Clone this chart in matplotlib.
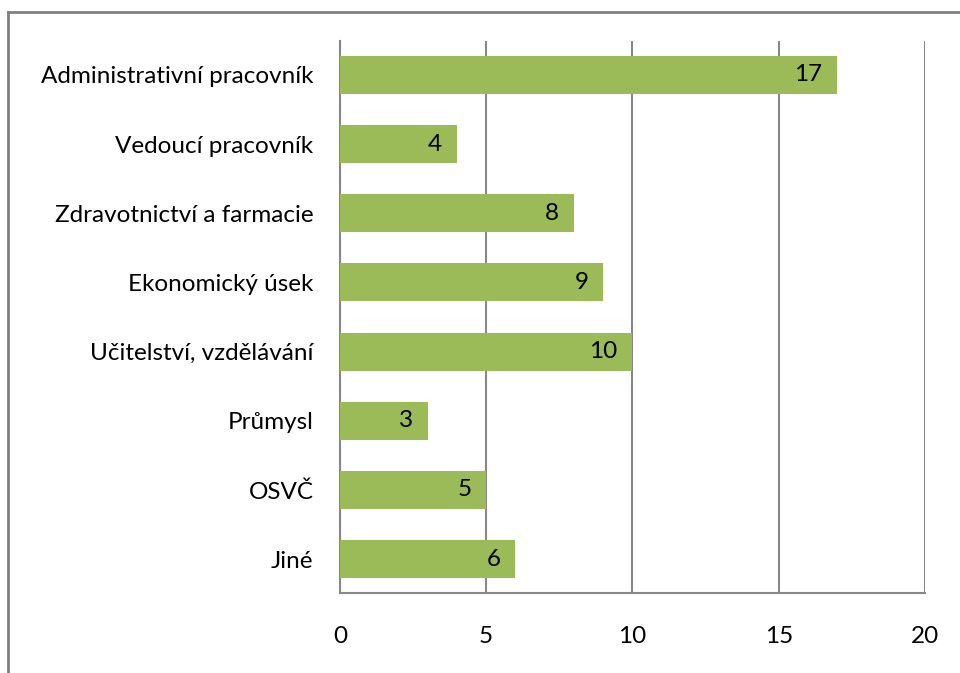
import matplotlib.pyplot as plt
from matplotlib.lines import Line2D

categories = ["Administrativní pracovník", "Vedoucí pracovník", "Zdravotnictví a farmacie",
              "Ekonomický úsek", "Učitelství, vzdělávání", "Průmysl", "OSVČ", "Jiné"]
values = [17, 4, 8, 9, 10, 3, 5, 6]
xticks = [0, 5, 10, 15, 20]

plt.rcParams['font.family'] = ['Lato', 'DejaVu Sans']
fs = 17.5

fig = plt.figure(figsize=(9.6, 6.73), dpi=100)
ax = fig.add_axes([0.354, 0.119, 0.6095, 0.82])

pos = list(range(len(categories)))[::-1]
bars = ax.barh(pos, values, height=0.55, color="#9BBB59", zorder=3)

for b, v in zip(bars, values):
    ax.text(b.get_width() - 0.5, b.get_y() + b.get_height() / 2, str(v),
            ha="right", va="center", fontsize=fs, color="black", zorder=4)

ax.set_xlim(0, 20)
ax.set_ylim(-0.49, 7.49)
ax.set_xticks(xticks)
ax.set_yticks(pos)
ax.set_yticklabels(categories)
ax.tick_params(axis="y", length=0, pad=19, labelsize=fs)
ax.tick_params(axis="x", length=0, pad=24, labelsize=fs)
ax.xaxis.grid(True, color="#888888", linewidth=1.5, zorder=0)
for s in ["top", "right"]:
    ax.spines[s].set_visible(False)
for s in ["left", "bottom"]:
    ax.spines[s].set_color("#888888")
    ax.spines[s].set_linewidth(1.5)

# outer frame (cropped on right and bottom)
fig.add_artist(Line2D([7.5 / 960, 7.5 / 960], [0, 1 - 12 / 673], transform=fig.transFigure,
                      color="#808080", linewidth=2))
fig.add_artist(Line2D([7.5 / 960, 1], [1 - 12 / 673, 1 - 12 / 673], transform=fig.transFigure,
                      color="#808080", linewidth=2))

fig.savefig("out.png", dpi=100)
